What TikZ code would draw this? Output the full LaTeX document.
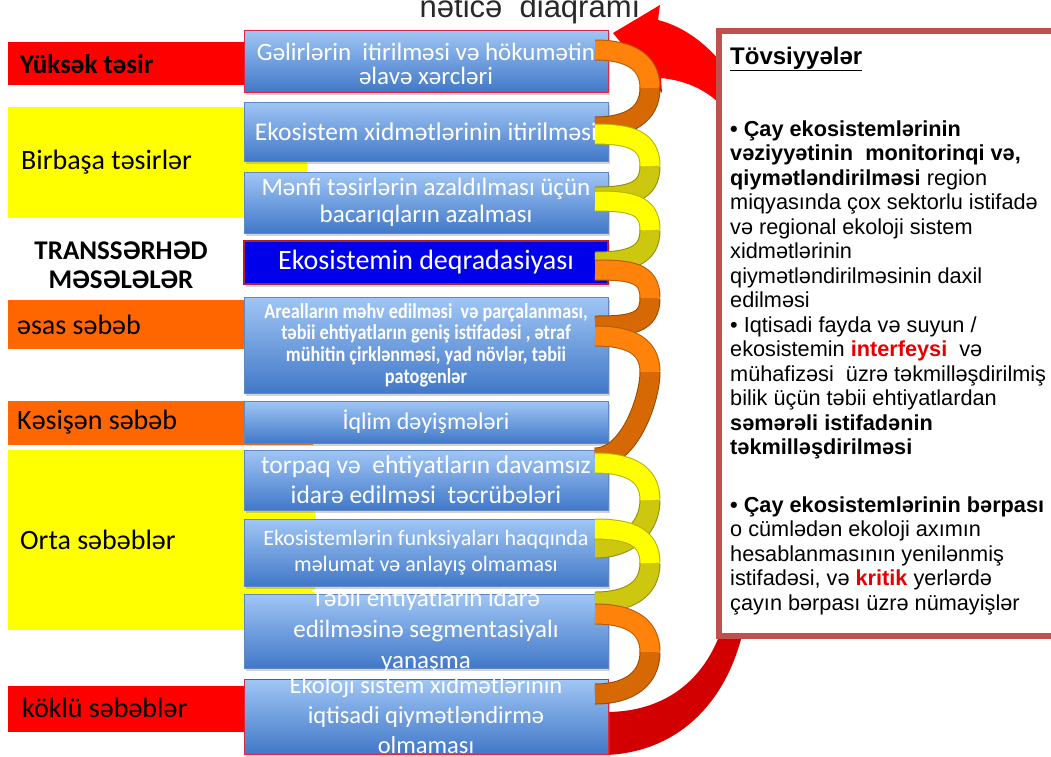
\documentclass[tikz,border=0pt]{standalone}
\usepackage{fontspec}
\setmainfont{Carlito}
\newfontfamily\arial{Liberation Sans}
\newfontfamily\condf[FakeStretch=0.86]{Carlito}
\usetikzlibrary{shadows,calc}
\definecolor{lred}{RGB}{255,0,0}
\definecolor{lyel}{RGB}{255,255,0}
\definecolor{lorg}{RGB}{255,102,0}
\definecolor{boxtop}{RGB}{160,198,245}
\definecolor{boxbot}{RGB}{65,120,200}
\definecolor{boxedge}{RGB}{95,135,195}
\definecolor{boxred}{RGB}{215,40,70}
\definecolor{deepblue}{RGB}{0,0,235}
\definecolor{panedge}{RGB}{192,80,77}
\definecolor{kred}{RGB}{230,0,0}
\definecolor{orL}{RGB}{255,130,10}
\definecolor{orD}{RGB}{215,105,5}
\definecolor{yeL}{RGB}{255,255,0}
\definecolor{yeD}{RGB}{205,200,15}
\definecolor{arrRed}{RGB}{255,0,0}
\definecolor{arrDark}{RGB}{210,0,0}
\definecolor{ttlgray}{RGB}{40,40,40}
\newcommand\drawribbon[5]{%
  \draw[ribbonedge=#5] (650,#2) .. controls (650,#2+26) and (630,#3) .. (595,#3);
  \draw[ribbonband=#5] (650,#2) .. controls (650,#2+26) and (630,#3) .. (595,#3);
  \draw[ribbonedge=#4] (595,#1) .. controls (630,#1) and (650,#2-26) .. (650,#2);
  \draw[ribbonband=#4] (595,#1) .. controls (630,#1) and (650,#2-26) .. (650,#2);
}
\begin{document}
\begin{tikzpicture}[x=1pt,y=-1pt,
  labrect/.style={anchor=north west, inner sep=0pt, draw=none},
  labtext/.style={anchor=west, inner sep=0pt, text=black, font=\fontsize{28}{30}\selectfont},
  boxbase/.style={rectangle, inner sep=0pt, minimum width=364, line width=0.7pt, draw=boxedge,
    drop shadow={shadow xshift=1.5pt, shadow yshift=-3pt, opacity=0.35}},
  box/.style={boxbase, top color=boxtop, bottom color=boxbot},
  btext/.style={align=center, text=white, inner sep=0pt},
  ribbonedge/.style={line width=21pt, draw=#1!70!black},
  ribbonband/.style={line width=19pt, draw=#1}]
\useasboundingbox (0,0) rectangle (1051,756);
\fill[white] (0,0) rectangle (1051,756);

% title (cut at top)
\node[anchor=base, inner sep=0pt, text=ttlgray, font=\arial\fontsize{31}{33}\selectfont] (title) at (530,17) {nəticə\ \ diaqramı};

% left label bands
\node[labrect, fill=lred, minimum width=238, minimum height=43] (r1) at (8,42) {};
\node[labtext, font=\bfseries\fontsize{27}{30}\selectfont] (l1) at (20,64) {Yüksək təsir};
\node[labrect, fill=lyel, minimum width=299, minimum height=111] (r2) at (8,107) {};
\node[labtext] (l2) at (21,162) {Birbaşa təsirlər};
\node[align=center, inner sep=0pt, font=\bfseries\fontsize{27}{29}\selectfont] (l0) at (121,265) {TRANSSƏRHƏD\\MƏSƏLƏLƏR};
\node[labrect, fill=lorg, minimum width=237, minimum height=49] (r3) at (8,300) {};
\node[labtext] (l3) at (17,325) {əsas səbəb};
\node[labrect, fill=lorg, minimum width=305, minimum height=44] (r4) at (8,401) {};
\node[labtext] (l4) at (17,422) {Kəsişən səbəb};
\node[labrect, fill=lyel, minimum width=307, minimum height=180] (r5) at (8,450) {};
\node[labtext] (l5) at (20,540) {Orta səbəblər};
\node[labrect, fill=lred, minimum width=237, minimum height=46] (r6) at (8,686) {};
\node[labtext] (l6) at (22,708) {köklü səbəblər};

% big red arrow (behind boxes and panel)
\fill[arrDark] (606,712) .. controls (665,712) and (705,680) .. (722,628)
  -- (745,622) .. controls (730,700) and (680,752) .. (606,755) -- cycle;
\fill[arrRed] (613,33) -- (660,5) -- (658,20) .. controls (690,28) and (722,55) .. (740,92)
  -- (740,132) .. controls (725,102) and (700,82) .. (661,78) -- (662,93) -- cycle;

% boxes
\node[box, minimum height=62, draw=boxred] (b1) at (426,61) {};
\node[box, minimum height=59] (b2) at (426,131.5) {};
\node[box, minimum height=61] (b3) at (426,202.5) {};
\node[boxbase, minimum height=43, fill=deepblue, draw=boxred!80!black, line width=1.2pt] (b4) at (426,262.5) {};
\node[box, minimum height=96] (b5) at (426,345) {};
\node[box, minimum height=42] (b6) at (426,422) {};
\node[box, minimum height=60] (b7) at (426,480) {};
\node[box, minimum height=67] (b8) at (426,552.5) {};
\node[box, minimum height=74] (b9) at (426,631) {};
\node[box, minimum height=75, draw=boxred] (b10) at (426,716.5) {};

\node[btext, font=\fontsize{25}{24}\selectfont] (t1) at ([yshift=-3pt]b1.center) {Gəlirlərin\ \ itirilməsi və hökumətin\\əlavə xərcləri};
\node[btext, font=\fontsize{25.5}{26}\selectfont] (t2) at (b2) {Ekosistem xidmətlərinin itirilməsi};
\node[btext, font=\fontsize{25}{27}\selectfont] (t3) at (b3) {Mənfi təsirlərin azaldılması üçün\\bacarıqların azalması};
\node[btext, font=\fontsize{28}{30}\selectfont] (t4) at (b4) {Ekosistemin deqradasiyası};
\node[btext, font=\condf\bfseries\fontsize{21.2}{21.7}\selectfont] (t5) at (b5) {Arealların məhv edilməsi\ \ və parçalanması,\\təbii ehtiyatların geniş istifadəsi , ətraf\\mühitin çirklənməsi, yad növlər, təbii\\patogenlər};
\node[btext, font=\fontsize{24}{26}\selectfont] (t6) at (b6) {İqlim dəyişmələri};
\node[btext, font=\fontsize{25.5}{30}\selectfont] (t7) at (b7) {torpaq və\ \ ehtiyatların davamsız\\idarə edilməsi\ \ təcrübələri};
\node[btext, font=\fontsize{22}{26}\selectfont] (t8) at (b8) {Ekosistemlərin funksiyaları haqqında\\məlumat və anlayış olmaması};
\node[btext, font=\fontsize{25}{31}\selectfont] (t9) at (b9) {Təbii ehtiyatların idarə\\edilməsinə segmentasiyalı\\yanaşma};
\node[btext, font=\fontsize{24.5}{30}\selectfont] (t10) at ([yshift=1.5pt]b10.center) {Ekoloji sistem xidmətlərinin\\iqtisadi qiymətləndirmə\\olmaması};

% ribbons
\drawribbon{50}{88}{127}{orL}{orD}
\drawribbon{134}{166}{197}{yeL}{yeD}
\drawribbon{201}{230}{262}{yeL}{yeD}
\drawribbon{270}{298}{326}{orL}{orD}
\drawribbon{336}{372}{458}{orL}{orD}
\drawribbon{463}{500}{548}{yeL}{yeD}
\drawribbon{529}{563}{602}{yeL}{yeD}
\drawribbon{614}{652}{694}{orL}{orD}

% recommendations panel
\node[anchor=north west, inner sep=0pt, draw=panedge, line width=6pt, fill=white,
  minimum width=390, minimum height=605,
  drop shadow={shadow xshift=2pt, shadow yshift=-2pt, opacity=0.3}] (panel) at (716,28) {};
\node[anchor=base west, inner sep=0pt, font=\arial\bfseries\fontsize{24}{26}\selectfont] (ptitle) at (730,64) {\underline{Tövsiyyələr}};
\node[anchor=north west, align=left, inner sep=0pt, font=\arial\fontsize{21.7}{24.5}\selectfont] (pbody) at (730,119) {%
\rule{0pt}{17pt}\textbf{• Çay ekosistemlərinin}\\
\textbf{vəziyyətinin\ \ monitorinqi və,}\\
\textbf{qiymətləndirilməsi} region\\
miqyasında çox sektorlu istifadə\\
və regional ekoloji sistem\\
xidmətlərinin\\
qiymətləndirilməsinin daxil\\
edilməsi\\
• Iqtisadi fayda və suyun /\\
ekosistemin \textcolor{kred}{\textbf{interfeysi}}\ \ və\\
mühafizəsi\ \ üzrə təkmilləşdirilmiş\\
bilik üçün təbii ehtiyatlardan\\
\textbf{səmərəli istifadənin}\\
\textbf{təkmilləşdirilməsi}\\[33pt]
\textbf{• Çay ekosistemlərinin bərpası}\\
o cümlədən ekoloji axımın\\
hesablanmasının yenilənmiş\\
istifadəsi, və \textcolor{kred}{\textbf{kritik}} yerlərdə\\
çayın bərpası üzrə nümayişlər};
\end{tikzpicture}
\end{document}
